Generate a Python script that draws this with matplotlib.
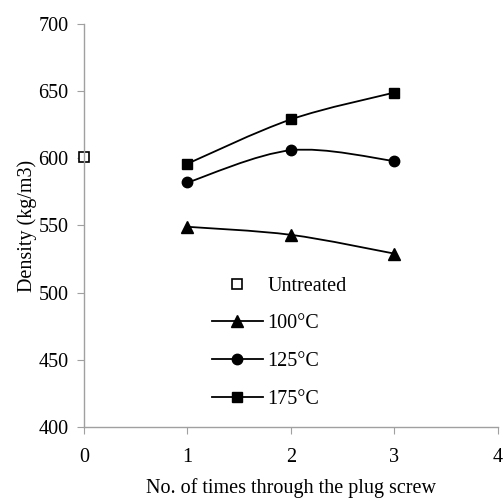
import matplotlib.pyplot as plt
import numpy as np
from matplotlib.path import Path
from matplotlib.patches import PathPatch
from matplotlib.lines import Line2D

plt.rcParams['font.family'] = ['Liberation Serif', 'DejaVu Serif']

passes = [1, 2, 3]
untreated_x = [0]
untreated_y = [601]
d100 = [549, 543, 529]
d125 = [582, 606, 598]
d175 = [596, 629, 649]

x_ticks = [0, 1, 2, 3, 4]
y_ticks = [400, 450, 500, 550, 600, 650, 700]


def smooth_path(xs, ys):
    # Excel style smoothed line: Catmull-Rom as cubic bezier segments
    pts = np.column_stack([xs, ys]).astype(float)
    verts = [pts[0]]
    codes = [Path.MOVETO]
    n = len(pts)
    for i in range(n - 1):
        p0 = pts[i - 1] if i > 0 else pts[i]
        p1 = pts[i]
        p2 = pts[i + 1]
        p3 = pts[i + 2] if i + 2 < n else pts[i + 1]
        c1 = p1 + (p2 - p0) / 6.0
        c2 = p2 - (p3 - p1) / 6.0
        verts += [c1, c2, p2]
        codes += [Path.CURVE4] * 3
    return Path(verts, codes)


fig = plt.figure(figsize=(5.03, 5.01), dpi=100)
ax = fig.add_axes([0.167, 0.148, 0.823, 0.804])

for ys in [d100, d125, d175]:
    ax.add_patch(PathPatch(smooth_path(passes, ys), fill=False, lw=1.3, color='black'))

ax.plot(untreated_x, untreated_y, 's', ms=7, mfc='white', mec='black', mew=1.2, clip_on=False)
ax.plot(passes, d100, '^', ms=8, color='black', clip_on=False)
ax.plot(passes, d125, 'o', ms=7.5, color='black', clip_on=False)
ax.plot(passes, d175, 's', ms=7, color='black', clip_on=False)

ax.set_xlim(0, 4)
ax.set_ylim(400, 700)
ax.set_xticks(x_ticks)
ax.set_yticks(y_ticks)

for s in ['top', 'right']:
    ax.spines[s].set_visible(False)
for s in ['left', 'bottom']:
    ax.spines[s].set_color('#a0a0a0')
    ax.spines[s].set_linewidth(1.0)
ax.tick_params(direction='out', length=5, color='#a0a0a0', labelsize=14.5)
ax.tick_params(axis='x', pad=10)
ax.tick_params(axis='y', pad=6)

ax.set_xlabel('No. of times through the plug screw', fontsize=14.5, labelpad=8)
ax.set_ylabel('Density (kg/m3)', fontsize=14.5, labelpad=1)

handles = [
    Line2D([], [], ls='none', marker='s', ms=7, mfc='white', mec='black', mew=1.2),
    Line2D([], [], color='black', lw=1.3, marker='^', ms=8),
    Line2D([], [], color='black', lw=1.3, marker='o', ms=7.5),
    Line2D([], [], color='black', lw=1.3, marker='s', ms=7),
]
labels = ['Untreated', '100°C', '125°C', '175°C']
ax.legend(handles, labels, loc='lower left', bbox_to_anchor=(0.266, 0.0),
          frameon=False, fontsize=14.5, handlelength=2.5, labelspacing=0.92,
          handletextpad=0.25)

fig.savefig('out.png', dpi=100)
